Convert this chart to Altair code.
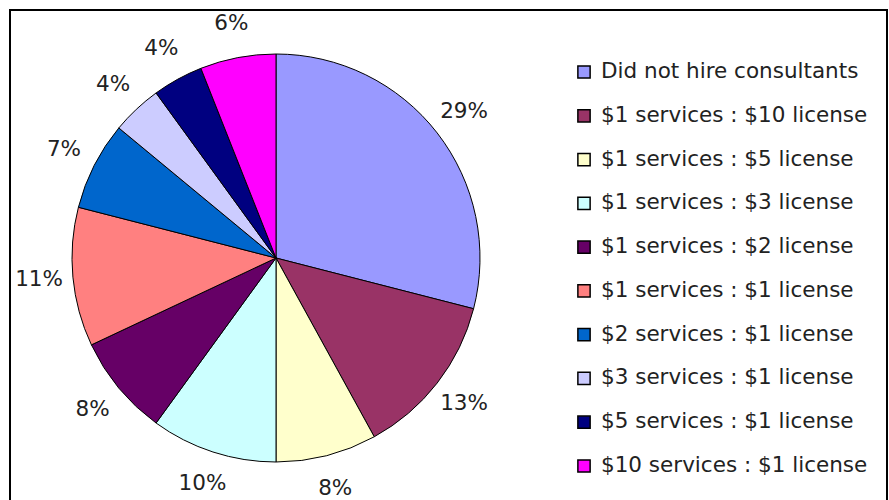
import altair as alt
import pandas as pd

categories = [
    "Did not hire consultants",
    "$1 services : $10 license",
    "$1 services : $5 license",
    "$1 services : $3 license",
    "$1 services : $2 license",
    "$1 services : $1 license",
    "$2 services : $1 license",
    "$3 services : $1 license",
    "$5 services : $1 license",
    "$10 services : $1 license",
]
values = [29, 13, 8, 10, 8, 11, 7, 4, 4, 6]
colors = ["#9999FF", "#993366", "#FFFFCC", "#CCFFFF", "#660066",
          "#FF8080", "#0066CC", "#CCCCFF", "#000080", "#FF00FF"]

df = pd.DataFrame({
    "category": categories,
    "value": values,
    "idx": list(range(len(categories))),
    "label": [f"{v}%" for v in values],
})

CX, CY, R = 276, 258, 204
FONT = "DejaVu Sans"

color = alt.Color("category:N", scale=alt.Scale(domain=categories, range=colors), legend=None)

base = alt.Chart(df)

pie = base.mark_arc(radius=R, stroke="black", strokeWidth=1).encode(
    theta=alt.Theta("value:Q", stack=True),
    color=color,
    order=alt.Order("idx:Q"),
    x=alt.value(CX),
    y=alt.value(CY),
)

labels = base.mark_text(radius=R + 34, fontSize=21.5, font=FONT, color="#222222").encode(
    theta=alt.Theta("value:Q", stack=True),
    order=alt.Order("idx:Q"),
    text="label:N",
    x=alt.value(CX),
    y=alt.value(CY),
)

ysc = alt.Scale(type="point", domain=categories, range=[72, 466], padding=0)

leg_sym = base.mark_square(size=150, stroke="black", strokeWidth=1.5, opacity=1).encode(
    x=alt.value(584),
    y=alt.Y("category:N", scale=ysc, axis=None),
    color=color,
)

leg_txt = base.mark_text(align="left", baseline="middle", fontSize=21.5, font=FONT, color="#222222").encode(
    x=alt.value(601),
    y=alt.Y("category:N", scale=ysc, axis=None),
    text="category:N",
)

frame = alt.Chart(df).mark_rect(fill=None, stroke="black", strokeWidth=2).encode(
    x=alt.value(10), x2=alt.value(887), y=alt.value(10), y2=alt.value(540)
)

chart = alt.layer(frame, pie, labels, leg_sym, leg_txt).properties(
    width=889, height=500, padding=0, autosize=alt.AutoSizeParams(type="none"),
    background="white",
).configure_view(stroke=None)

chart.save("out.html", embed_options={"renderer": "svg", "actions": False})
